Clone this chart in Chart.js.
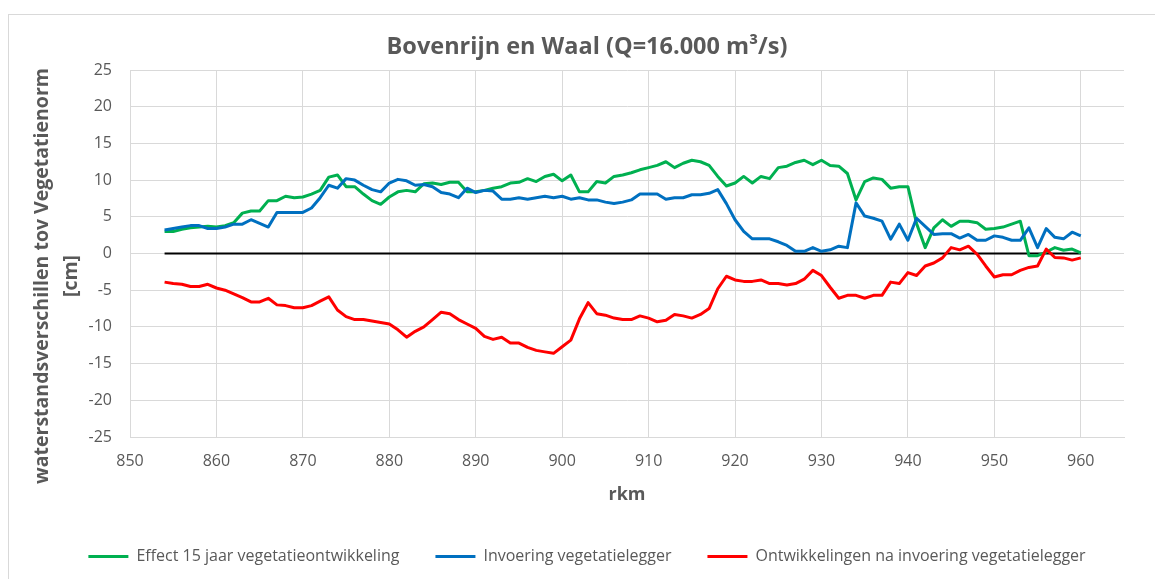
<!DOCTYPE html>
<html>
<head>
<meta charset="utf-8">
<script src="https://cdn.jsdelivr.net/npm/chart.js@4/dist/chart.umd.min.js"></script>
<style>
  html, body { margin: 0; padding: 0; background: #ffffff; }
  #wrap { width: 1155px; height: 579px; }
</style>
</head>
<body>
<div id="wrap"><canvas id="c" width="1155" height="579"></canvas></div>
<script>
// River kilometre stations (rkm)
const rkm = [
  854, 855, 856, 857, 858, 859, 860, 861, 862, 863,
  864, 865, 866, 867, 868, 869, 870, 871, 872, 873,
  874, 875, 876, 877, 878, 879, 880, 881, 882, 883,
  884, 885, 886, 887, 888, 889, 890, 891, 892, 893,
  894, 895, 896, 897, 898, 899, 900, 901, 902, 903,
  904, 905, 906, 907, 908, 909, 910, 911, 912, 913,
  914, 915, 916, 917, 918, 919, 920, 921, 922, 923,
  924, 925, 926, 927, 928, 929, 930, 931, 932, 933,
  934, 935, 936, 937, 938, 939, 940, 941, 942, 943,
  944, 945, 946, 947, 948, 949, 950, 951, 952, 953,
  954, 955, 956, 957, 958, 959, 960
];

// Water level differences [cm]
const effectVegetatie = [
  3.0, 3.0, 3.3, 3.5, 3.6, 3.7, 3.6, 3.8, 4.2, 5.5,
  5.8, 5.8, 7.2, 7.2, 7.8, 7.6, 7.7, 8.1, 8.6, 10.4,
  10.7, 9.1, 9.1, 8.1, 7.2, 6.7, 7.7, 8.4, 8.6, 8.4,
  9.5, 9.6, 9.4, 9.7, 9.7, 8.4, 8.4, 8.6, 8.9, 9.1,
  9.6, 9.7, 10.2, 9.8, 10.5, 10.8, 9.9, 10.7, 8.4, 8.4,
  9.8, 9.6, 10.5, 10.7, 11.0, 11.4, 11.7, 12.0, 12.5, 11.7,
  12.3, 12.7, 12.5, 12.0, 10.5, 9.2, 9.6, 10.5, 9.6, 10.5,
  10.2, 11.7, 11.9, 12.4, 12.7, 12.1, 12.7, 12.0, 11.9, 10.9,
  7.3, 9.8, 10.3, 10.1, 8.9, 9.1, 9.1, 4.1, 0.8, 3.5,
  4.6, 3.7, 4.4, 4.4, 4.2, 3.3, 3.4, 3.6, 4.0, 4.4,
  -0.3, -0.3, 0.2, 0.8, 0.45, 0.6, 0.1
];

const invoeringLegger = [
  3.2, 3.4, 3.6, 3.8, 3.8, 3.4, 3.4, 3.6, 4.0, 4.0,
  4.6, 4.1, 3.6, 5.6, 5.6, 5.6, 5.6, 6.2, 7.6, 9.3,
  8.9, 10.2, 10.0, 9.3, 8.7, 8.4, 9.6, 10.1, 9.9, 9.3,
  9.4, 9.1, 8.3, 8.1, 7.6, 8.9, 8.3, 8.6, 8.5, 7.4,
  7.4, 7.6, 7.4, 7.6, 7.8, 7.6, 7.8, 7.4, 7.6, 7.3,
  7.3, 7.0, 6.8, 7.0, 7.3, 8.1, 8.1, 8.1, 7.4, 7.6,
  7.6, 8.0, 8.0, 8.2, 8.7, 6.8, 4.6, 3.0, 2.0, 2.0,
  2.0, 1.6, 1.1, 0.3, 0.3, 0.8, 0.3, 0.5, 1.0, 0.8,
  6.9, 5.1, 4.8, 4.4, 1.95, 4.0, 1.8, 4.8, 3.7, 2.6,
  2.7, 2.7, 2.1, 2.6, 1.8, 1.8, 2.4, 2.2, 1.8, 1.8,
  3.5, 0.8, 3.4, 2.2, 2.0, 2.9, 2.4
];

const ontwikkelingenNaInvoering = [
  -3.9, -4.1, -4.2, -4.5, -4.5, -4.2, -4.7, -5.0, -5.5, -6.0,
  -6.6, -6.6, -6.1, -7.0, -7.1, -7.4, -7.4, -7.1, -6.5, -5.9,
  -7.7, -8.6, -9.0, -9.0, -9.2, -9.4, -9.6, -10.4, -11.4, -10.6,
  -10.0, -9.0, -8.0, -8.2, -9.0, -9.6, -10.2, -11.3, -11.7, -11.4,
  -12.2, -12.2, -12.8, -13.2, -13.4, -13.6, -12.7, -11.8, -8.9, -6.7,
  -8.2, -8.4, -8.8, -9.0, -9.0, -8.5, -8.8, -9.3, -9.1, -8.3,
  -8.5, -8.8, -8.3, -7.5, -4.8, -3.1, -3.6, -3.8, -3.8, -3.6,
  -4.1, -4.1, -4.3, -4.1, -3.5, -2.3, -3.0, -4.6, -6.1, -5.7,
  -5.7, -6.1, -5.7, -5.7, -3.9, -4.1, -2.6, -3.0, -1.7, -1.3,
  -0.6, 0.8, 0.5, 1.0, -0.1, -1.7, -3.2, -2.9, -2.9, -2.3,
  -1.9, -1.7, 0.6, -0.55, -0.6, -0.9, -0.6
];

// Reference (zero) line across the measured reach
const nulLijnKm = [854, 960];
const nulLijnWaarde = [0, 0];

const seriesLabels = [
  'Effect 15 jaar vegetatieontwikkeling',
  'Invoering vegetatielegger',
  'Ontwikkelingen na invoering vegetatielegger'
];
const chartTitle = 'Bovenrijn en Waal (Q=16.000 m³/s)';
const yTitleLines = ['waterstandsverschillen tov Vegetatienorm', '[cm]'];
const xTitle = 'rkm';

const FONT = '"Open Sans", "Liberation Sans", sans-serif';
const TEXT = '#595959';
const GRID = '#d9d9d9';

const toPoints = (xs, ys) => xs.map((x, i) => ({ x: x, y: ys[i] }));

// Outer chart frame
const framePlugin = {
  id: 'frame',
  beforeDraw(chart) {
    const ctx = chart.ctx;
    ctx.save();
    ctx.fillStyle = '#ffffff';
    ctx.fillRect(0, 0, chart.width, chart.height);
    ctx.strokeStyle = GRID;
    ctx.lineWidth = 1;
    ctx.strokeRect(8.5, 14.5, chart.width + 20, chart.height + 20);
    ctx.restore();
  }
};

// Vertical axis title, two lines, rotated
const yTitlePlugin = {
  id: 'yTitle',
  afterDraw(chart) {
    const ctx = chart.ctx;
    ctx.save();
    ctx.fillStyle = TEXT;
    ctx.font = 'bold 19.5px ' + FONT;
    ctx.textAlign = 'center';
    ctx.textBaseline = 'middle';
    const cy = 276;
    const xs = [42, 71];
    yTitleLines.forEach((line, i) => {
      ctx.save();
      ctx.translate(xs[i], cy);
      ctx.rotate(-Math.PI / 2);
      ctx.fillText(line, 0, 0);
      ctx.restore();
    });
    ctx.restore();
  }
};

new Chart(document.getElementById('c'), {
  type: 'line',
  data: {
    datasets: [
      {
        label: seriesLabels[0],
        data: toPoints(rkm, effectVegetatie),
        borderColor: '#00b050',
        backgroundColor: '#00b050',
        borderWidth: 3,
        order: 2
      },
      {
        label: seriesLabels[1],
        data: toPoints(rkm, invoeringLegger),
        borderColor: '#0070c0',
        backgroundColor: '#0070c0',
        borderWidth: 3,
        order: 1
      },
      {
        label: seriesLabels[2],
        data: toPoints(rkm, ontwikkelingenNaInvoering),
        borderColor: '#ff0000',
        backgroundColor: '#ff0000',
        borderWidth: 3,
        order: 0
      },
      {
        label: 'nul',
        data: toPoints(nulLijnKm, nulLijnWaarde),
        borderColor: '#000000',
        backgroundColor: '#000000',
        borderWidth: 2,
        order: 3
      }
    ]
  },
  options: {
    responsive: false,
    animation: false,
    devicePixelRatio: 1,
    layout: { padding: { top: 0, left: 50, right: 31, bottom: 6.5 } },
    elements: {
      point: { radius: 0, hoverRadius: 0 },
      line: { tension: 0, borderJoinStyle: 'round', borderCapStyle: 'butt' }
    },
    plugins: {
      title: {
        display: true,
        text: chartTitle,
        color: TEXT,
        font: { family: FONT, size: 23.5, weight: 'bold', lineHeight: 1.2 },
        padding: { top: 33, bottom: 8.8 }
      },
      legend: {
        position: 'bottom',
        reverse: true,
        maxHeight: 60,
        labels: {
          color: TEXT,
          font: { family: FONT, size: 16 },
          usePointStyle: true,
          pointStyle: 'line',
          pointStyleWidth: 40,
          padding: 36,
          filter: (item) => item.text !== 'nul'
        }
      },
      tooltip: { enabled: false }
    },
    scales: {
      x: {
        type: 'linear',
        min: 850,
        max: 965,
        afterBuildTicks(scale) {
          scale.ticks = scale.ticks.filter(t => t.value <= 960);
        },
        afterFit(scale) { scale.height = 75.5; },
        ticks: {
          stepSize: 10,
          color: TEXT,
          padding: 15,
          font: { family: FONT, size: 16 },
          maxRotation: 0
        },
        grid: { color: GRID, lineWidth: 1, drawTicks: false },
        border: { display: true, color: GRID, width: 1 },
        title: {
          display: true,
          text: xTitle,
          color: TEXT,
          font: { family: FONT, size: 18, weight: 'bold', lineHeight: 1.2 },
          padding: { top: 0, bottom: 6.7 }
        }
      },
      y: {
        min: -25,
        max: 25,
        afterFit(scale) { scale.width = 80; },
        ticks: {
          stepSize: 5,
          color: TEXT,
          padding: 18,
          font: { family: FONT, size: 16 }
        },
        grid: { color: GRID, lineWidth: 1, drawTicks: false },
        border: { display: true, color: GRID, width: 1 }
      }
    }
  },
  plugins: [framePlugin, yTitlePlugin]
});
</script>
</body>
</html>
